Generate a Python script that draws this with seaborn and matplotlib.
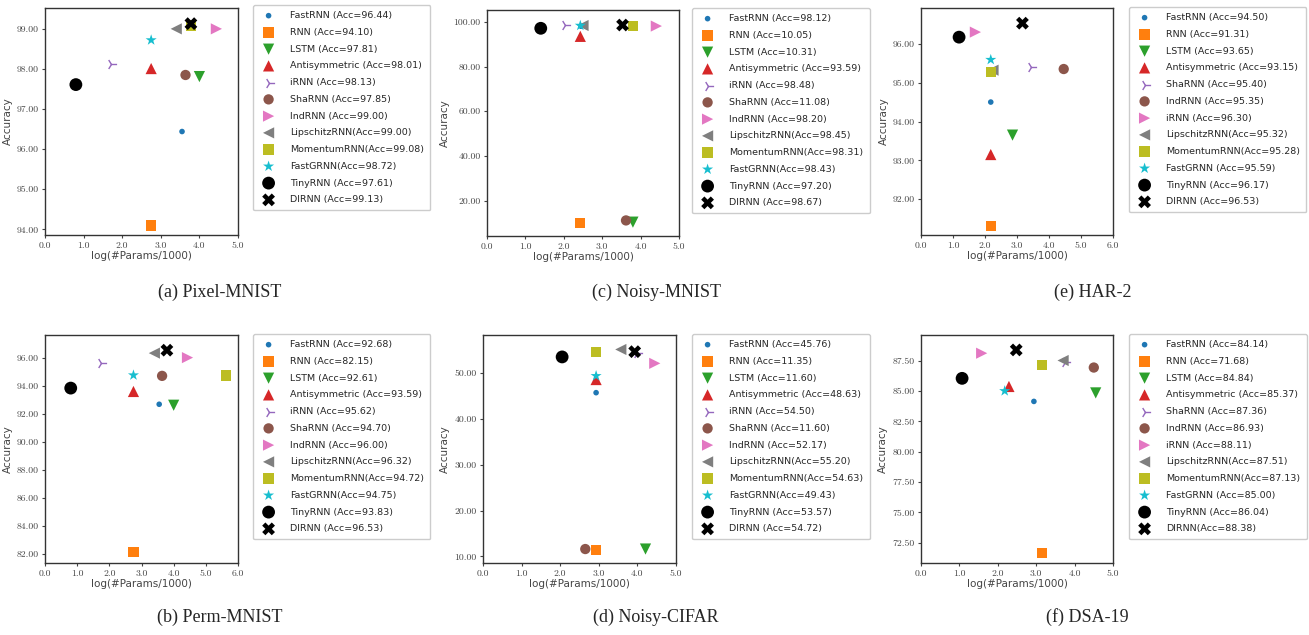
import matplotlib
matplotlib.use("Agg")
import matplotlib.pyplot as plt
import seaborn as sns
from matplotlib.ticker import FormatStrFormatter, MultipleLocator

sns.set_style("ticks")
plt.rcParams["font.family"] = ["DejaVu Sans"]

# ---------------- data ----------------
names_std = ["FastRNN ", "RNN ", "LSTM ", "Antisymmetric ", "iRNN ", "ShaRNN ",
             "IndRNN ", "LipschitzRNN", "MomentumRNN", "FastGRNN", "TinyRNN ", "DIRNN "]
names_har = ["FastRNN ", "RNN ", "LSTM ", "Antisymmetric ", "ShaRNN ", "IndRNN ",
             "iRNN ", "LipschitzRNN", "MomentumRNN", "FastGRNN ", "TinyRNN ", "DIRNN "]
names_dsa = ["FastRNN ", "RNN ", "LSTM ", "Antisymmetric ", "ShaRNN ", "IndRNN ",
             "iRNN ", "LipschitzRNN", "MomentumRNN", "FastGRNN ", "TinyRNN ", "DIRNN"]

# (a) Pixel-MNIST
x_pixel = [3.55, 2.75, 4.00, 2.75, 1.71, 3.64, 4.44, 3.40, 3.78, 2.75, 0.80, 3.78]
acc_pixel = [96.44, 94.10, 97.81, 98.01, 98.13, 97.85, 99.00, 99.00, 99.08, 98.72, 97.61, 99.13]
# (c) Noisy-MNIST
x_noisy = [2.45, 2.43, 3.80, 2.43, 2.03, 3.62, 4.41, 2.50, 3.80, 2.43, 1.40, 3.53]
acc_noisy = [98.12, 10.05, 10.31, 93.59, 98.48, 11.08, 98.20, 98.45, 98.31, 98.43, 97.20, 98.67]
# (e) HAR-2
x_har = [2.18, 2.18, 2.86, 2.18, 3.45, 4.46, 1.70, 2.25, 2.18, 2.18, 1.19, 3.17]
acc_har = [94.50, 91.31, 93.65, 93.15, 95.40, 95.35, 96.30, 95.32, 95.28, 95.59, 96.17, 96.53]
# (b) Perm-MNIST
x_perm = [3.55, 2.75, 4.00, 2.75, 1.74, 3.64, 4.43, 3.40, 5.63, 2.75, 0.80, 3.79]
acc_perm = [92.68, 82.15, 92.61, 93.59, 95.62, 94.70, 96.00, 96.32, 94.72, 94.75, 93.83, 96.53]
# (d) Noisy-CIFAR
x_cifar = [2.93, 2.93, 4.21, 2.93, 4.00, 2.65, 4.45, 3.57, 2.93, 2.93, 2.05, 3.93]
acc_cifar = [45.76, 11.35, 11.60, 48.63, 54.50, 11.60, 52.17, 55.20, 54.63, 49.43, 53.57, 54.72]
# (f) DSA-19
x_dsa = [2.94, 3.15, 4.55, 2.29, 3.75, 4.50, 1.58, 3.70, 3.15, 2.18, 1.07, 2.48]
acc_dsa = [84.14, 71.68, 84.84, 85.37, 87.36, 86.93, 88.11, 87.51, 87.13, 85.00, 86.04, 88.38]

captions = ["(a) Pixel-MNIST", "(c) Noisy-MNIST", "(e) HAR-2",
            "(b) Perm-MNIST", "(d) Noisy-CIFAR", "(f) DSA-19"]

# ---------------- styles ----------------
tab = sns.color_palette("tab10")
colors = [tab[0], tab[1], tab[2], tab[3], tab[4], tab[5], tab[6], tab[7], tab[8], tab[9], "black", "black"]
markers = [".", "s", "v", "^", "4", "o", ">", "<", "s", "*", "o", "X"]
sizes = [65, 55, 65, 65, 65, 55, 65, 65, 55, 70, 85, 85]

W, H = 1309, 635
fig = plt.figure(figsize=(W / 100, H / 100), dpi=100)

def fx(px):
    return px / W

def fy(py):
    return 1 - py / H

panels = [
    (names_std, x_pixel, acc_pixel, (45, 8, 238, 235), 5, (93.86, 99.52), (253, 5), (220, 292), 1.0),
    (names_std, x_noisy, acc_noisy, (487, 10, 679, 236), 5, (4.1, 105.4), (692, 8), (657, 292), 20.0),
    (names_har, x_har, acc_har, (921, 8, 1113, 235), 6, (91.08, 96.92), (1129, 7), (1093, 292), 1.0),
    (names_std, x_perm, acc_perm, (45, 335, 238, 563), 6, (81.38, 97.61), (253, 334), (220, 617), 2.0),
    (names_std, x_cifar, acc_cifar, (483, 335, 676, 563), 5, (8.55, 58.36), (692, 334), (656, 617), 10.0),
    (names_dsa, x_dsa, acc_dsa, (921, 335, 1113, 563), 5, (70.83, 89.61), (1129, 334), (1087, 617), 2.5),
]

for (names, xs, accs, box, xmax, ylim, leg, cap, ystep), caption in zip(panels, captions):
    l, t, r, b = box
    ax = fig.add_axes([fx(l), fy(b), fx(r) - fx(l), (b - t) / H])
    for i in range(len(names)):
        label = f"{names[i]}(Acc={accs[i]:.2f})"
        kw = dict(edgecolor="none")
        if markers[i] == "4":
            kw = dict(linewidth=1.0)
        sns.scatterplot(x=[xs[i]], y=[accs[i]], marker=markers[i], color=colors[i],
                        s=sizes[i], label=label, ax=ax, legend=False, **kw)
    ax.set_xlim(0, xmax)
    ax.set_ylim(*ylim)
    ax.xaxis.set_major_locator(MultipleLocator(1.0))
    ax.yaxis.set_major_locator(MultipleLocator(ystep))
    ax.xaxis.set_major_formatter(FormatStrFormatter("%.1f"))
    ax.yaxis.set_major_formatter(FormatStrFormatter("%.2f"))
    for lab in ax.get_xticklabels() + ax.get_yticklabels():
        lab.set_fontfamily("cmr10")
        lab.set_fontsize(7)
        lab.set_color("#444444")
    ax.tick_params(length=2.5, width=0.8, pad=2, colors="#444444")
    for sp in ax.spines.values():
        sp.set_linewidth(1.0)
        sp.set_color("#333333")
    ax.set_xlabel("log(#Params/1000)", fontsize=7.5, color="#444444", labelpad=1)
    ax.set_ylabel("Accuracy", fontsize=7.5, color="#444444", labelpad=3)
    handles, labels = ax.get_legend_handles_labels()
    ax.legend(handles, labels, loc="upper left", bbox_to_anchor=(fx(leg[0]), fy(leg[1])),
              bbox_transform=fig.transFigure, fontsize=6.8, labelspacing=0.82,
              borderpad=0.65, handletextpad=1.3, handlelength=2.0, frameon=True,
              edgecolor="#cccccc", fancybox=True, framealpha=1.0, borderaxespad=0)
    fig.text(fx(cap[0]), fy(cap[1]), caption, ha="center", va="center",
             fontsize=13, family="Liberation Serif")

fig.savefig("out.png", dpi=100)
